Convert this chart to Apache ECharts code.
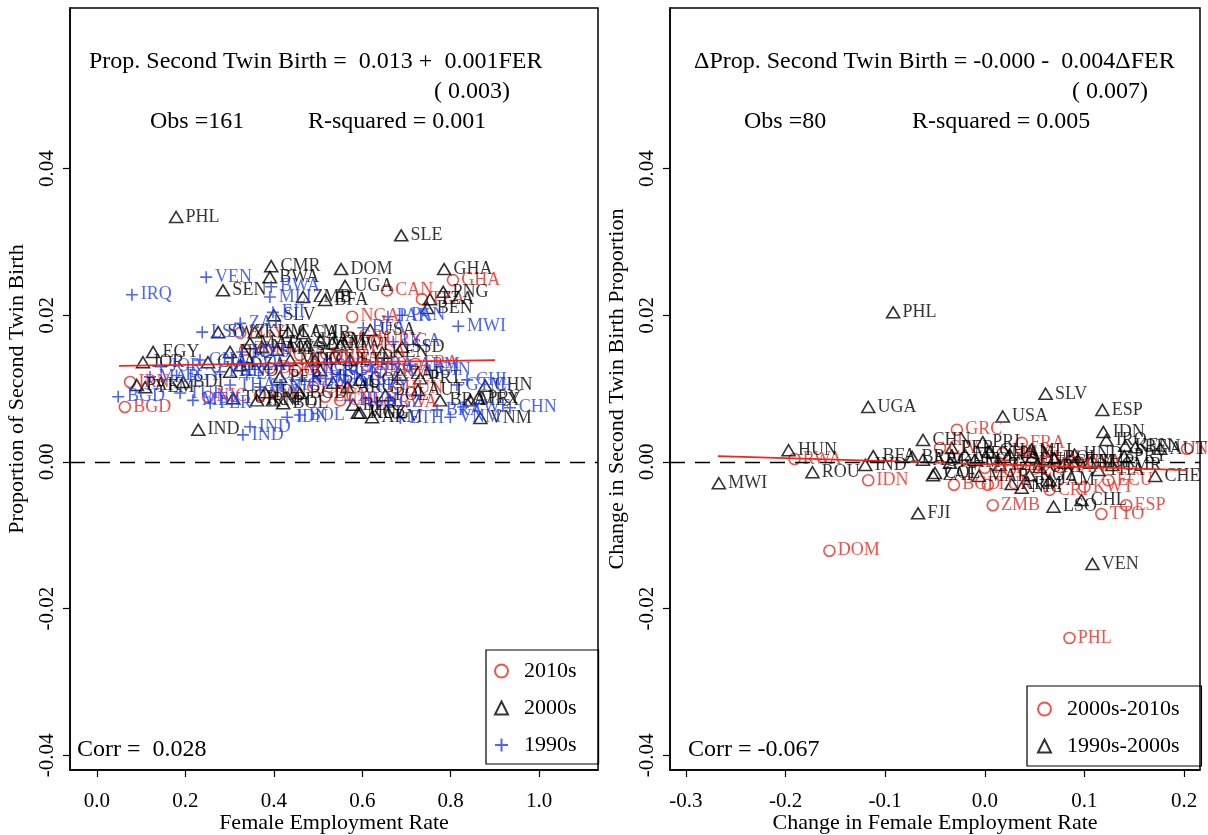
<!DOCTYPE html>
<html>
<head>
<meta charset="utf-8">
<script src="https://cdn.jsdelivr.net/npm/echarts@6/dist/echarts.min.js"></script>
<style>
html, body { margin: 0; padding: 0; background: #fff; }
#chart { width: 1208px; height: 835px; }
</style>
</head>
<body>
<div id="chart"></div>
<script>
const FONT = '"Liberation Serif", "Times New Roman", serif';
const RED = '#f2261a';
const BLUE = '#1f3fff';

// left panel: level of second twin birth proportion vs female employment rate
const lab2010 = ['GHA','CAN','TZA','NGA','BGD','IRN','EGY','GRC','URY','BRA','MEX','CRI','LUX','CHL','NIC','RWA','PER','ARM','COL','DOM','ZMB','IDN','ECU','HUN','FRA','USA'];
const x2010 = [0.805,0.656,0.735,0.577,0.063,0.075,0.324,0.572,0.633,0.538,0.505,0.489,0.516,0.550,0.251,0.663,0.610,0.640,0.448,0.391,0.335,0.369,0.459,0.676,0.720,0.600];
const y2010 = [0.0248,0.0234,0.0222,0.0198,0.0075,0.0109,0.0176,0.0170,0.0166,0.0143,0.0143,0.0102,0.0089,0.0084,0.0089,0.0082,0.0132,0.0123,0.0125,0.0128,0.0153,0.0091,0.0146,0.0101,0.0134,0.0150];

const lab2000 = ['PHL','SLE','CMR','BWA','DOM','GHA','UGA','SEN','PNG','TZA','BEN','ZMB','BFA','SLV','EGY','JOR','BDI','IND','VNM','MNG','PRT','AUT','USA','MWI','SSD','KEN','CAM','GAB','JAM','CIV','SWZ','KHM','MAR','NAM','MYS','SDN','GUA','HND','PER','GRC','ROU','ARG','COL','TUR','IRN','NPL','BOL','KGZ','ARM','BRA','MEX','PRY','CHN','PAK','YEM','BLR','DZA','MDG','IDN','BGD','ECU','ZAF','POL','NIC','ETH'];
const x2000 = [0.179,0.688,0.394,0.391,0.552,0.785,0.561,0.285,0.783,0.753,0.747,0.466,0.516,0.400,0.127,0.104,0.195,0.229,0.867,0.590,0.731,0.726,0.618,0.550,0.690,0.645,0.432,0.466,0.505,0.532,0.274,0.357,0.346,0.373,0.407,0.475,0.251,0.301,0.414,0.505,0.534,0.566,0.595,0.308,0.362,0.398,0.421,0.595,0.622,0.776,0.844,0.862,0.878,0.090,0.109,0.579,0.324,0.437,0.380,0.459,0.493,0.686,0.652,0.301,0.572];
const y2000 = [0.0334,0.0309,0.0267,0.0252,0.0263,0.0263,0.0240,0.0234,0.0232,0.0222,0.0210,0.0225,0.0221,0.0200,0.0150,0.0136,0.0109,0.0044,0.0060,0.0067,0.0114,0.0098,0.0180,0.0159,0.0157,0.0149,0.0177,0.0176,0.0166,0.0162,0.0177,0.0177,0.0162,0.0157,0.0153,0.0159,0.0136,0.0123,0.0116,0.0125,0.0108,0.0102,0.0112,0.0087,0.0084,0.0084,0.0080,0.0067,0.0061,0.0084,0.0084,0.0087,0.0104,0.0105,0.0102,0.0078,0.0132,0.0139,0.0095,0.0094,0.0139,0.0119,0.0091,0.0150,0.0139];

const lab1990 = ['VEN','IRQ','BWA','MLI','MWI','PAN','PAK','BFA','UGA','ZAF','LSO','MAR','BGD','IND','IND','IDN','BOL','ETH','ZWE','KGZ','VNM','BRA','GTM','CHL','FRA','ARM','GIN','FJI','MYS','COL','GHA','PHL','ECU','SLV','NIC','PRY','MEX','PER','TUR','HUN','TZA','KEN','BEN','THA','SEN','CHN','ROU','JOR','EGY'];
const x1990 = [0.247,0.079,0.394,0.391,0.817,0.690,0.658,0.602,0.670,0.324,0.238,0.120,0.048,0.346,0.330,0.430,0.459,0.686,0.828,0.633,0.799,0.769,0.814,0.837,0.618,0.708,0.753,0.398,0.328,0.330,0.233,0.278,0.339,0.369,0.414,0.611,0.217,0.256,0.188,0.572,0.622,0.462,0.505,0.301,0.550,0.934,0.488,0.145,0.180];
const y1990 = [0.0252,0.0228,0.0239,0.0225,0.0185,0.0200,0.0198,0.0183,0.0164,0.0189,0.0177,0.0116,0.0089,0.0048,0.0037,0.0061,0.0064,0.0060,0.0075,0.0082,0.0061,0.0071,0.0105,0.0112,0.0132,0.0132,0.0125,0.0204,0.0150,0.0136,0.0139,0.0123,0.0119,0.0102,0.0105,0.0105,0.0084,0.0080,0.0094,0.0084,0.0123,0.0112,0.0114,0.0105,0.0119,0.0074,0.0130,0.0130,0.0118];

// right panel: changes between decades
const labD1 = ['RWA','IDN','DOM','PHL','GRC','FRA','ESP','TTO','NLD','ECU','CRI','KWT','ZMB','BGD','TUR','CIV','MEX','ITA','POL','URY','CAN','USA','HUN'];
const xD1 = [-0.191,-0.117,-0.156,0.085,-0.028,0.037,0.142,0.117,0.203,0.124,0.065,0.100,0.008,-0.031,0.003,-0.045,0.018,0.000,0.025,0.055,0.075,0.093,0.048];
const yD1 = [0.0004,-0.0025,-0.0121,-0.0240,0.0044,0.0026,-0.0059,-0.0071,0.0018,-0.0025,-0.0038,-0.0034,-0.0059,-0.0031,-0.0031,0.0019,0.0012,-0.0008,-0.0011,-0.0004,-0.0007,0.0000,0.0005];

const labD0 = ['UGA','HUN','MWI','ROU','IND','BFA','BRA','CHN','FJI','PHL','SLV','ESP','USA','IDN','IRQ','KEN','BEN','AUT','PRY','CHE','CHL','LSO','VEN','NIC','JAM','MAR','COL','PER','PRI','ARG','ZAF','KHM','MEX','ECU','GHA','TZA','PAN','SEN','MLI','URY','BOL','GTM','HND','TUR','THA','CMR','KGZ','ARM'];
const xD0 = [-0.117,-0.197,-0.267,-0.173,-0.120,-0.112,-0.073,-0.062,-0.067,-0.092,0.061,0.118,0.018,0.119,0.122,0.141,0.151,0.176,0.140,0.171,0.097,0.069,0.108,0.037,0.065,-0.006,-0.050,-0.033,-0.002,-0.062,-0.052,-0.035,-0.020,-0.010,0.005,0.015,0.025,0.035,0.045,0.055,0.070,0.080,0.090,0.106,0.114,0.128,0.045,0.027];
const yD0 = [0.0075,0.0016,-0.0029,-0.0014,-0.0004,0.0008,0.0007,0.0030,-0.0070,0.0204,0.0093,0.0071,0.0062,0.0041,0.0030,0.0022,0.0020,0.0018,0.0008,-0.0019,-0.0052,-0.0061,-0.0139,-0.0035,-0.0025,-0.0019,-0.0015,0.0019,0.0027,0.0003,-0.0018,-0.0001,0.0010,0.0003,0.0014,-0.0004,0.0010,0.0003,0.0014,-0.0007,0.0005,-0.0001,0.0010,-0.0001,-0.0011,-0.0004,-0.0018,-0.0030];

// fitted lines
const fitLeftX = [0.05, 0.90];
const fitLeftY = [0.0131, 0.0139];
const fitRightX = [-0.268, 0.203];
const fitRightY = [0.0008, -0.0011];

// ticks
const xTicksLeft = [0, 0.2, 0.4, 0.6, 0.8, 1.0];
const xTicksRight = [-0.3, -0.2, -0.1, 0, 0.1, 0.2];
const yTicks = [-0.04, -0.02, 0, 0.02, 0.04];

const PLUS = 'path://M0,6L12,6M6,0L6,12';

function pts(labs, xs, ys) {
  return xs.map((v, i) => ({ name: labs[i], value: [v, ys[i]] }));
}

function scatter(name, data, idx, symbol, size, color) {
  return {
    type: 'scatter',
    name: name,
    data: data,
    xAxisIndex: idx,
    yAxisIndex: idx,
    symbol: symbol,
    symbolSize: size,
    itemStyle: { color: 'transparent', borderColor: color, borderWidth: 1.6 },
    label: {
      show: true, position: 'right', distance: 2, formatter: '{b}',
      color: color, fontFamily: FONT, fontSize: 18
    },
    emphasis: { disabled: true }
  };
}

function fitLine(idx, xs, ys) {
  return {
    type: 'line',
    xAxisIndex: idx,
    yAxisIndex: idx,
    data: xs.map((v, i) => [v, ys[i]]),
    symbol: 'none',
    silent: true,
    lineStyle: { color: RED, width: 1.7 },
    markLine: {
      silent: true,
      symbol: 'none',
      label: { show: false },
      lineStyle: { color: '#000', type: [15, 10], width: 1.4 },
      data: [{ yAxis: 0 }]
    }
  };
}

function xAxis(idx, min, max, ticks, name) {
  return {
    type: 'value', gridIndex: idx, min: min, max: max,
    name: name, nameLocation: 'middle', nameGap: 42, nameMoveOverlap: false,
    nameTextStyle: { fontFamily: FONT, fontSize: 22, color: '#000' },
    axisLine: { show: true, onZero: false, lineStyle: { color: '#000', width: 1.5 } },
    axisTick: { show: true, inside: false, length: 7, customValues: ticks, lineStyle: { color: '#000', width: 1.2 } },
    axisLabel: { customValues: ticks, formatter: v => v.toFixed(1), fontFamily: FONT, fontSize: 21, color: '#000', margin: 21 },
    splitLine: { show: false }
  };
}

function yAxis(idx, name) {
  return {
    type: 'value', gridIndex: idx, min: -0.042, max: 0.0619,
    name: name, nameLocation: 'middle', nameGap: 42, nameMoveOverlap: false,
    nameTextStyle: { fontFamily: FONT, fontSize: 22, color: '#000' },
    axisLine: { show: true, onZero: false, lineStyle: { color: '#000', width: 1.5 } },
    axisTick: { show: true, inside: false, length: 7, customValues: yTicks, lineStyle: { color: '#000', width: 1.2 } },
    axisLabel: { customValues: yTicks, rotate: 90, formatter: v => v.toFixed(2), fontFamily: FONT, fontSize: 21, color: '#000', margin: 12 },
    splitLine: { show: false }
  };
}

function legend(names, left, top, pad, gap, textPad) {
  return {
    data: names, orient: 'vertical', left: left, top: top,
    padding: pad, itemGap: gap, itemWidth: 13, itemHeight: 13,
    borderColor: '#000', borderWidth: 1.2, selectedMode: false,
    textStyle: { fontFamily: FONT, fontSize: 22, color: '#000', padding: [0, 0, 0, textPad] }
  };
}

function txt(x, y, s) {
  return { type: 'text', x: x, y: y, silent: true,
    style: { text: s, font: '24px ' + FONT, fill: '#000', verticalAlign: 'middle' } };
}

const chart = echarts.init(document.getElementById('chart'));
chart.setOption({
  animation: false,
  backgroundColor: '#fff',
  grid: [
    { left: 70, top: 8, width: 528, height: 762, show: true, borderColor: '#000', borderWidth: 1.5, outerBoundsMode: 'none', containLabel: false },
    { left: 670, top: 8, width: 530, height: 762, show: true, borderColor: '#000', borderWidth: 1.5, outerBoundsMode: 'none', containLabel: false }
  ],
  xAxis: [
    xAxis(0, -0.061, 1.133, xTicksLeft, 'Female Employment Rate'),
    xAxis(1, -0.316, 0.216, xTicksRight, 'Change in Female Employment Rate')
  ],
  yAxis: [
    yAxis(0, 'Proportion of Second Twin Birth'),
    yAxis(1, 'Change in Second Twin Birth Proportion')
  ],
  legend: [
    legend(['2010s', '2000s', '1990s'], 486, 650, [10, 22, 8, 8], 15, 11),
    legend(['2000s-2010s', '1990s-2000s'], 1027, 686, [12, 22, 9, 10], 15, 11)
  ],
  graphic: [
    txt(89, 62, 'Prop. Second Twin Birth =  0.013 +  0.001FER'),
    txt(434, 92, '( 0.003)'),
    txt(150, 122, 'Obs =161'),
    txt(308, 122, 'R-squared = 0.001'),
    txt(77, 750, 'Corr =  0.028'),
    txt(694, 62, '\u0394Prop. Second Twin Birth = -0.000 -  0.004\u0394FER'),
    txt(1072, 92, '( 0.007)'),
    txt(744, 122, 'Obs =80'),
    txt(912, 122, 'R-squared = 0.005'),
    txt(688, 750, 'Corr = -0.067')
  ],
  series: [
    scatter('2010s', pts(lab2010, x2010, y2010), 0, 'circle', 11, RED),
    scatter('2000s', pts(lab2000, x2000, y2000), 0, 'triangle', [13, 11], '#000'),
    scatter('1990s', pts(lab1990, x1990, y1990), 0, PLUS, 12, BLUE),
    fitLine(0, fitLeftX, fitLeftY),
    scatter('2000s-2010s', pts(labD1, xD1, yD1), 1, 'circle', 11, RED),
    scatter('1990s-2000s', pts(labD0, xD0, yD0), 1, 'triangle', [13, 11], '#000'),
    fitLine(1, fitRightX, fitRightY)
  ]
});
</script>
</body>
</html>
